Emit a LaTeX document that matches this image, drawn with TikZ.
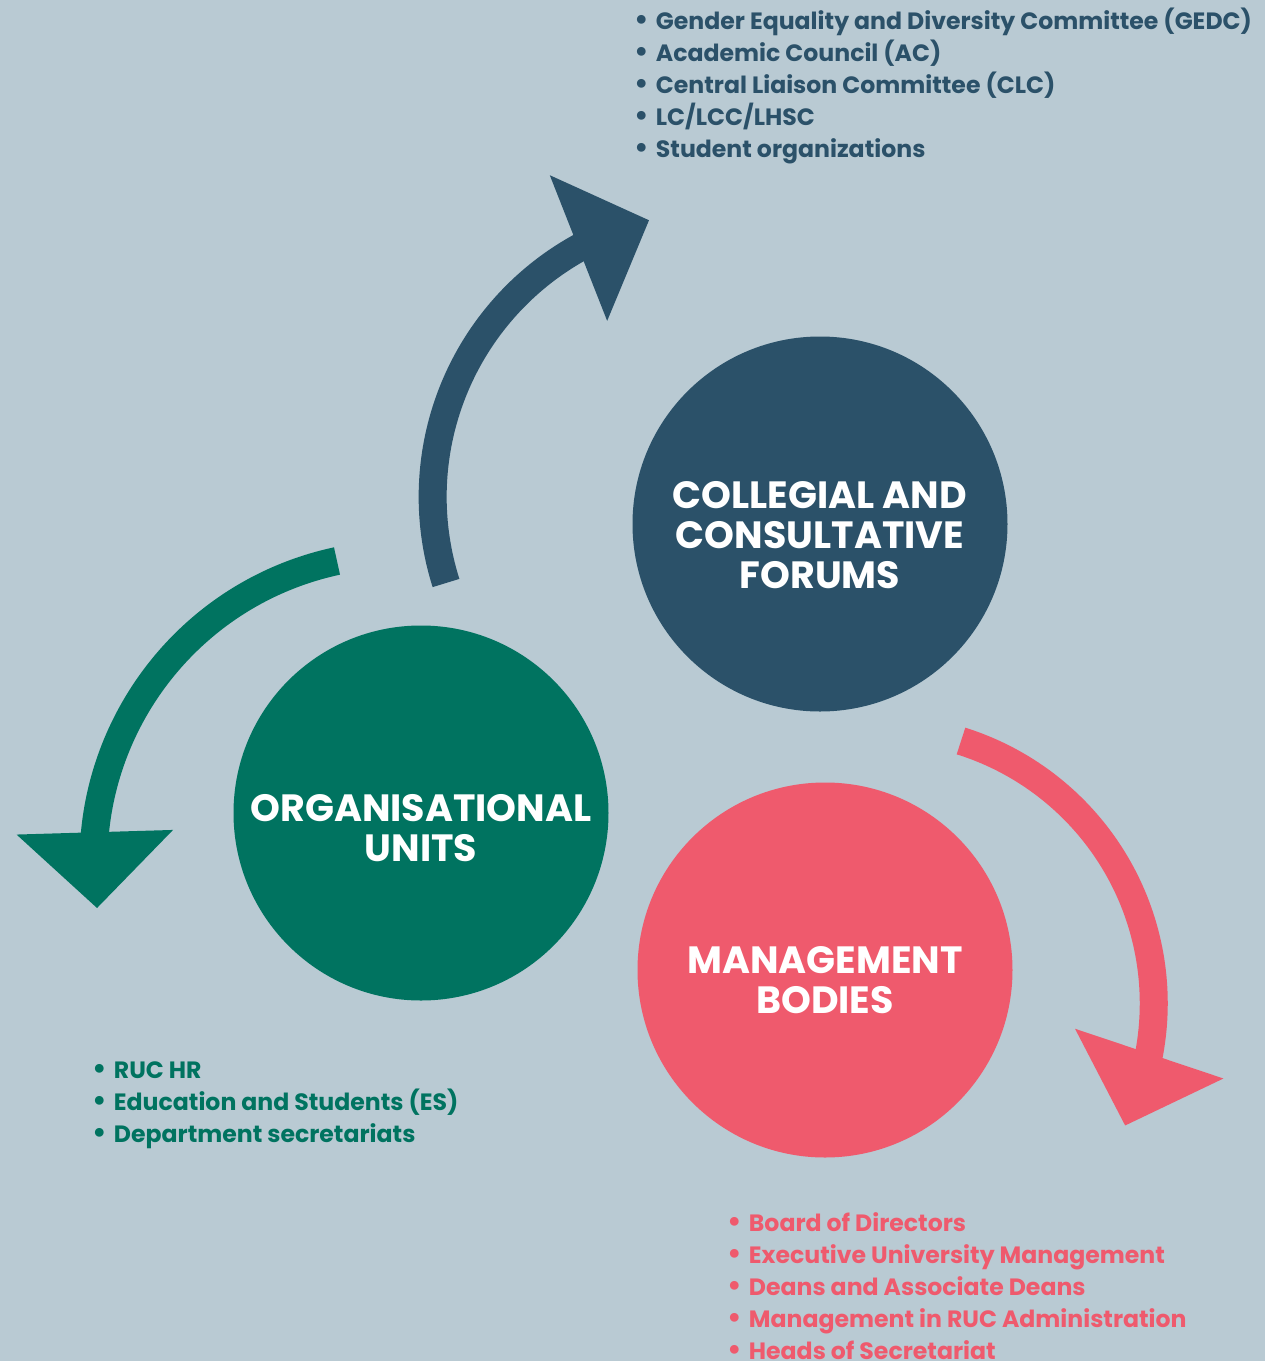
\documentclass[tikz,border=0pt]{standalone}
\usepackage{fontspec}
\setmainfont{Poppins}
\usepackage{tikz}
\usetikzlibrary{arrows.meta,bending,positioning}

\definecolor{bgcol}{HTML}{B9CAD3}
\definecolor{forumcol}{HTML}{2B5169}
\definecolor{unitcol}{HTML}{007360}
\definecolor{mgmtcol}{HTML}{EF5A6D}

\newcommand{\blt}{{\fontsize{14.5}{16}\selectfont\textbullet}\hspace{3.5pt}}

\begin{document}
\begin{tikzpicture}[x=0.5pt, y=0.5pt,
		circ/.style={circle, minimum size=187.5pt, inner sep=0pt},
		title/.style={text=white, align=center, font=\bfseries\fontsize{19}{20}\selectfont},
		list/.style={anchor=north west, align=left, inner sep=0pt, font=\bfseries\fontsize{11.8}{16}\selectfont},
		curve/.style={line width=14pt, -{Triangle[length=38pt, width=76pt]}}]
	\fill[bgcol] (0,0) rectangle (1265,-1361);
	\useasboundingbox (0,0) rectangle (1265,-1361);

	\node[circ, fill=forumcol] (forum) at (820,-524) {};
	\node[title] (forumtxt) at ([yshift=-5.5pt]forum) {COLLEGIAL AND\\CONSULTATIVE\\FORUMS};

	\node[circ, fill=unitcol] (units) at (421,-813) {};
	\node[title] (unitstxt) at ([yshift=-7.5pt]units) {ORGANISATIONAL\\UNITS};

	\node[circ, fill=mgmtcol] (mgmt) at (825,-970) {};
	\node[title] (mgmttxt) at ([yshift=-5pt]mgmt) {MANAGEMENT\\BODIES};

	\node[list, text=forumcol] (forumlist) at (634,-8) {\blt Gender Equality and Diversity Committee (GEDC)\\\blt Academic Council (AC)\\\blt Central Liaison Committee (CLC)\\\blt LC/LCC/LHSC\\\blt Student organizations};
	\node[list, text=unitcol] (unitslist) at (92,-1061) {\blt RUC HR\\\blt Education and Students (ES)\\\blt Department secretariats};
	\node[list, text=mgmtcol] (mgmtlist) at (727,-1212) {\blt Board of Directors\\\blt Executive University Management\\\blt Deans and Associate Deans\\\blt Management in RUC Administration\\\blt Heads of Secretariat};

	\coordinate (forumout) at (446,-583);
	\coordinate (unitsout) at (337,-561);
	\coordinate (mgmtout) at (961,-741);
	\draw[curve, forumcol] (forumout) arc[start angle=197.6, end angle=103.9, radius=142.5pt];
	\draw[curve, unitcol] (unitsout) arc[start angle=102.1, end angle=188.6, radius=154pt];
	\draw[curve, mgmtcol] (mgmtout) arc[start angle=72.6, end angle=-26.4, radius=137.5pt];
\end{tikzpicture}
\end{document}
